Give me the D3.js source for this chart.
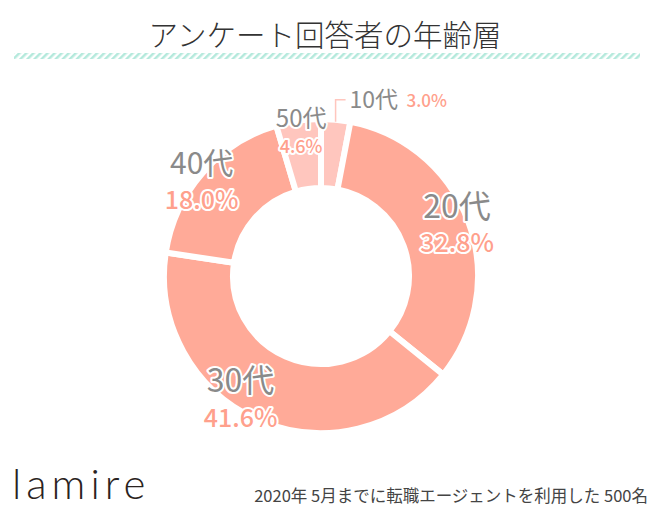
<!DOCTYPE html>
<html><head><meta charset="utf-8">
<script src="https://cdn.jsdelivr.net/npm/d3@7"></script>
<style>
html,body{margin:0;padding:0;background:#fff;}
svg{display:block;}
</style></head>
<body>
<svg id="chart" width="650" height="520"></svg>
<script>
// ---- data ----
const categories = ["10代", "20代", "30代", "40代", "50代"];
const percents = [3.0, 32.8, 41.6, 18.0, 4.6];
const percentLabels = ["3.0%", "32.8%", "41.6%", "18.0%", "4.6%"];
const titleText = "アンケート回答者の年齢層";
const noteText = "2020年 5月までに転職エージェントを利用した 500名";
const logoText = "lamire";

// ---- layout / style ----
const W = 650, H = 520;
const cx = 321, cy = 276;
const rOuter = 157, rInner = 88;
const sliceColors = ["#ffc6be", "#ffaa98", "#ffaa98", "#ffaa98", "#ffc6be"];
const grey = "#8a8a8a", salmon = "#ffa08c";
const jp = "'Noto Sans CJK JP','Noto Sans',sans-serif";

const svg = d3.select("#chart");

// title
svg.append("text").attr("x", 325).attr("y", 46)
  .attr("text-anchor", "middle").attr("font-family", jp)
  .attr("font-size", 29.5).attr("font-weight", 300).attr("fill", "#333")
  .text(titleText);

// hatched band
const defs = svg.append("defs");
const pat = defs.append("pattern").attr("id", "hatch")
  .attr("patternUnits", "userSpaceOnUse").attr("width", 5).attr("height", 5)
  .attr("patternTransform", "rotate(45)");
pat.append("rect").attr("width", 2.5).attr("height", 5).attr("fill", "#b4e9dc");
svg.append("rect").attr("x", 14).attr("y", 53).attr("width", 626).attr("height", 6)
  .attr("fill", "url(#hatch)");

// donut
const pie = d3.pie().sort(null).value(d => d)(percents);
const arc = d3.arc().innerRadius(rInner).outerRadius(rOuter);
const g = svg.append("g").attr("transform", `translate(${cx},${cy})`);
g.selectAll("path").data(pie).join("path")
  .attr("d", arc)
  .attr("fill", (d, i) => sliceColors[i])
  .attr("stroke", "#fff").attr("stroke-width", 6).attr("stroke-linejoin", "miter");

// labels
const labelR = 145;
const labelLayout = [
  null,
  {dx: 0, dy: -1, nameSize: 32, pctSize: 25, gap: 37},
  {dx: -22, dy: -9, nameSize: 32, pctSize: 25, gap: 37},
  {dx: -10, dy: 1, nameSize: 30, pctSize: 25, gap: 37},
  {dx: 1, dy: 0, nameSize: 24, pctSize: 18, gap: 28}
];
function halo(sel, w) {
  return sel.attr("stroke", "#fff").attr("stroke-width", w)
    .attr("stroke-linejoin", "round").attr("paint-order", "stroke");
}
pie.forEach((d, i) => {
  const L = labelLayout[i];
  if (!L) return;
  const a = (d.startAngle + d.endAngle) / 2;
  const x = Math.sin(a) * labelR + L.dx;
  const y = -Math.cos(a) * labelR + L.dy;
  const t1 = g.append("text").attr("x", x).attr("y", y - L.gap / 2 + L.nameSize * 0.35)
    .attr("text-anchor", "middle").attr("font-family", jp)
    .attr("font-size", L.nameSize).attr("fill", grey).text(categories[i]);
  halo(t1, 4);
  const t2 = g.append("text").attr("x", x).attr("y", y + L.gap / 2 + L.pctSize * 0.35)
    .attr("text-anchor", "middle").attr("font-family", jp)
    .attr("font-size", L.pctSize).attr("font-weight", 500).attr("fill", salmon).text(percentLabels[i]);
  halo(t2, 4);
});

// 10代 label with leader line
{
  const d = pie[0];
  const a = (d.startAngle + d.endAngle) / 2;
  const x0 = Math.sin(a) * (rOuter - 2), y0 = -Math.cos(a) * (rOuter - 2);
  const yTop = y0 - 22;
  g.append("path")
    .attr("d", `M${x0},${y0} V${yTop} H${x0 + 10}`)
    .attr("fill", "none").attr("stroke", "#ffc6be").attr("stroke-width", 1.5);
  g.append("text").attr("x", x0 + 14).attr("y", yTop + 8)
    .attr("font-family", jp).attr("font-size", 23).attr("fill", grey).text(categories[0]);
  g.append("text").attr("x", x0 + 71).attr("y", yTop + 7)
    .attr("font-family", jp).attr("font-size", 17).attr("font-weight", 500).attr("fill", salmon).text(percentLabels[0]);
}

// footer
svg.append("text").attr("x", 12).attr("y", 499)
  .attr("font-family", "Lato, 'Noto Sans', sans-serif").attr("font-size", 42)
  .attr("font-weight", 300).attr("letter-spacing", 5).attr("fill", "#2a2220").text(logoText);
svg.append("text").attr("x", 648).attr("y", 502).attr("text-anchor", "end")
  .attr("font-family", jp).attr("font-size", 16.5).attr("fill", "#444").text(noteText);
</script>
</body></html>
